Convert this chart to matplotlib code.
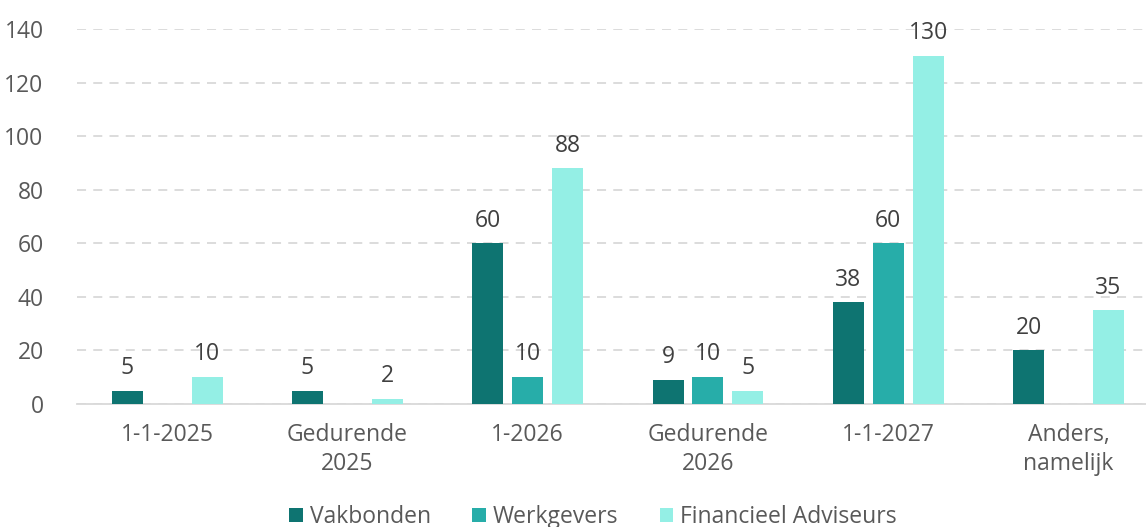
import matplotlib
matplotlib.use("Agg")
import matplotlib.pyplot as plt
import numpy as np

categories = ["1-1-2025", "Gedurende\n2025", "1-2026", "Gedurende\n2026", "1-1-2027", "Anders,\nnamelijk"]
series_names = ["Vakbonden", "Werkgevers", "Financieel Adviseurs"]
vakbonden = [5, 5, 60, 9, 38, 20]
werkgevers = [0, 0, 10, 10, 60, 0]
financieel = [10, 2, 88, 5, 130, 35]
colors = ["#0E7471", "#27ADA9", "#94EFE5"]
yticks = [0, 20, 40, 60, 80, 100, 120, 140]

plt.rcParams['font.family'] = ['Open Sans', 'DejaVu Sans']

W, H = 1146, 527
fig = plt.figure(figsize=(W / 100, H / 100), dpi=100)
left, right = 77, 1146
bottom, top = 404, 29
ax = fig.add_axes([left / W, 1 - bottom / H, (right - left) / W, (bottom - top) / H])

x = np.arange(len(categories))
bw = 31 / 180.4
step = 40 / 180.4
data = [vakbonden, werkgevers, financieel]
for i, (name, vals, c) in enumerate(zip(series_names, data, colors)):
    pos = x + (i - 1) * step
    ax.bar(pos, vals, width=bw, color=c, label=name, zorder=3)
    for p, v in zip(pos, vals):
        if v > 0:
            ax.text(p, v + 4.0, str(v), ha="center", va="bottom", fontsize=16.5, color="#404040")

ax.set_xlim(-0.5, (1146 - 166.5) / 180.4)
ax.set_ylim(0, 140)
ax.set_yticks(yticks)
ax.set_xticks(x)
ax.set_xticklabels(categories, fontsize=16.5, color="#595959", linespacing=1.25)
ax.tick_params(axis="y", labelsize=16.5, labelcolor="#595959", length=0, pad=24)
ax.tick_params(axis="x", length=0, pad=14)
ax.yaxis.grid(True, color="#D9D9D9", linestyle=(0, (5, 4)), linewidth=1.3, zorder=0)
for s in ["top", "right", "left"]:
    ax.spines[s].set_visible(False)
ax.spines["bottom"].set_color("#D9D9D9")
ax.spines["bottom"].set_linewidth(1.3)
ax.set_axisbelow(True)

leg = fig.legend(loc="center", bbox_to_anchor=(593 / W, 1 - 517 / H), ncol=3, frameon=False,
                 fontsize=16.5, handlelength=0.6, handleheight=0.6, handletextpad=0.3, columnspacing=1.8)
for t in leg.get_texts():
    t.set_color("#595959")

fig.savefig("out.png", dpi=100)
